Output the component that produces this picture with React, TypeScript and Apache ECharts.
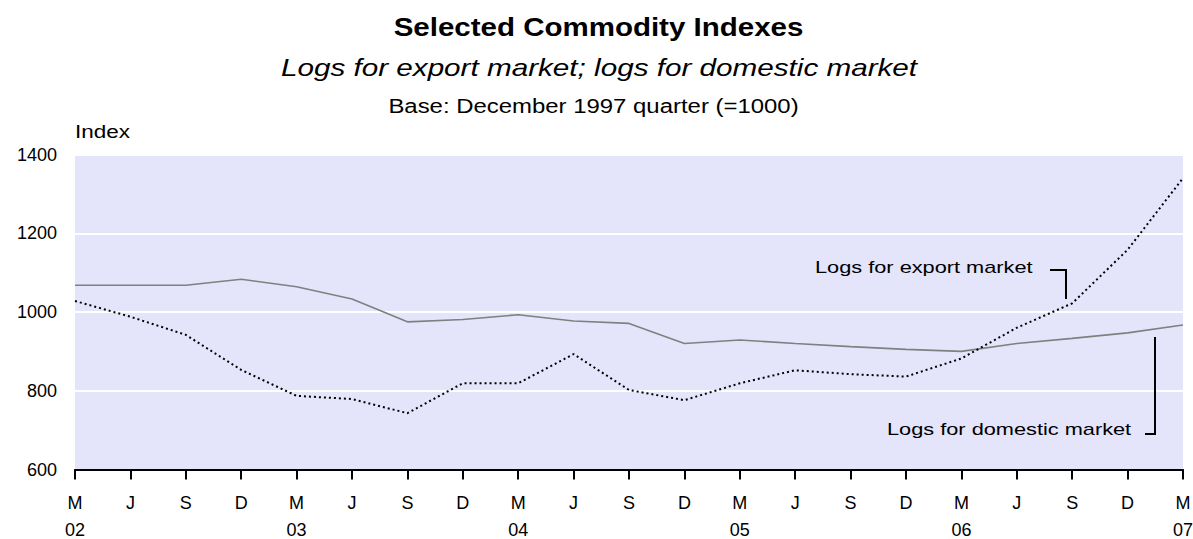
import React, { useEffect, useRef } from "react";
import * as echarts from "echarts";

const monthLabels = ["M", "J", "S", "D", "M", "J", "S", "D", "M", "J", "S", "D", "M", "J", "S", "D", "M", "J", "S", "D", "M"];
const yearLabels = ["02", "", "", "", "03", "", "", "", "04", "", "", "", "05", "", "", "", "06", "", "", "", "07"];

const domesticValues = [1068, 1068, 1068, 1083, 1064, 1033, 975, 981, 993, 977, 971, 920, 929, 920, 912, 905, 900, 920, 933, 947, 967];
const exportValues = [1028, 988, 942, 853, 787, 779, 743, 819, 819, 893, 802, 776, 819, 852, 842, 836, 882, 960, 1022, 1158, 1340];

const yMin = 600;
const yMax = 1400;
const yInterval = 200;

const titleText = "Selected Commodity Indexes";
const subtitleText = "Logs for export market; logs for domestic market";
const baseText = "Base: December 1997 quarter (=1000)";
const unitText = "Index";
const exportLabel = "Logs for export market";
const domesticLabel = "Logs for domestic market";

const FONT = '"Liberation Sans", Arial, Helvetica, sans-serif';

export default function App() {
  const ref = useRef<HTMLDivElement>(null);

  useEffect(() => {
    if (!ref.current) return;
    const chart = echarts.init(ref.current, null, { renderer: "svg" });
    const categories = monthLabels.map((m, i) => (yearLabels[i] ? `${m}\n${yearLabels[i]}` : m));

    chart.setOption({
      animation: false,
      backgroundColor: "#ffffff",
      grid: {
        left: 75,
        right: 10,
        top: 154.5,
        bottom: 69.5,
        containLabel: false,
        outerBoundsMode: "none",
        show: true,
        backgroundColor: "#E4E4FB",
        borderWidth: 0,
      },
      xAxis: {
        type: "category",
        data: categories,
        boundaryGap: false,
        axisLine: { show: true, lineStyle: { color: "#000", width: 2 } },
        axisTick: { show: true, length: 10, interval: 0, lineStyle: { color: "#000", width: 2 } },
        axisLabel: {
          interval: 0,
          color: "#000",
          fontFamily: FONT,
          fontSize: 18,
          lineHeight: 27,
          margin: 20,
          hideOverlap: false,
        },
        splitLine: { show: false },
      },
      yAxis: {
        type: "value",
        min: yMin,
        max: yMax,
        interval: yInterval,
        axisLine: { show: false },
        axisTick: { show: false },
        axisLabel: {
          color: "#000",
          fontFamily: FONT,
          fontSize: 18,
          margin: 18,
          formatter: (v: number) => String(v),
        },
        splitLine: { show: true, lineStyle: { color: "#ffffff", width: 2 } },
      },
      series: [
        {
          name: domesticLabel,
          type: "line",
          data: domesticValues,
          showSymbol: false,
          smooth: false,
          lineStyle: { color: "#808080", width: 1.6 },
          z: 2,
        },
        {
          name: exportLabel,
          type: "line",
          data: exportValues,
          showSymbol: false,
          smooth: false,
          lineStyle: { color: "#000000", width: 2, type: [2, 3] },
          z: 3,
        },
      ],
      graphic: [
        {
          type: "text",
          x: 598.5,
          y: 27,
          scaleX: 1.18,
          style: { text: titleText, font: `bold 25px ${FONT}`, fill: "#000", textAlign: "center", textVerticalAlign: "middle" },
        },
        {
          type: "text",
          x: 599,
          y: 68.5,
          scaleX: 1.29,
          style: { text: subtitleText, font: `italic 23px ${FONT}`, fill: "#000", textAlign: "center", textVerticalAlign: "middle" },
        },
        {
          type: "text",
          x: 593.5,
          y: 106.5,
          scaleX: 1.14,
          style: { text: baseText, font: `21px ${FONT}`, fill: "#000", textAlign: "center", textVerticalAlign: "middle" },
        },
        {
          type: "text",
          x: 75,
          y: 132,
          scaleX: 1.25,
          style: { text: unitText, font: `18px ${FONT}`, fill: "#000", textAlign: "left", textVerticalAlign: "middle" },
        },
        {
          type: "text",
          x: 815,
          y: 267,
          scaleX: 1.28,
          z: 10,
          style: { text: exportLabel, font: `17px ${FONT}`, fill: "#000", textAlign: "left", textVerticalAlign: "middle" },
        },
        {
          type: "polyline",
          z: 10,
          shape: { points: [[1050, 270], [1066, 270], [1066, 299]] },
          style: { stroke: "#000", lineWidth: 2, fill: "none" },
        },
        {
          type: "text",
          x: 887,
          y: 429,
          scaleX: 1.28,
          z: 10,
          style: { text: domesticLabel, font: `17px ${FONT}`, fill: "#000", textAlign: "left", textVerticalAlign: "middle" },
        },
        {
          type: "polyline",
          z: 10,
          shape: { points: [[1145, 434], [1155, 434], [1155, 337]] },
          style: { stroke: "#000", lineWidth: 2, fill: "none" },
        },
      ],
    });

    return () => {
      chart.dispose();
    };
  }, []);

  return <div ref={ref} style={{ position: "fixed", left: 0, top: 0, width: 1193, height: 539 }} />;
}
